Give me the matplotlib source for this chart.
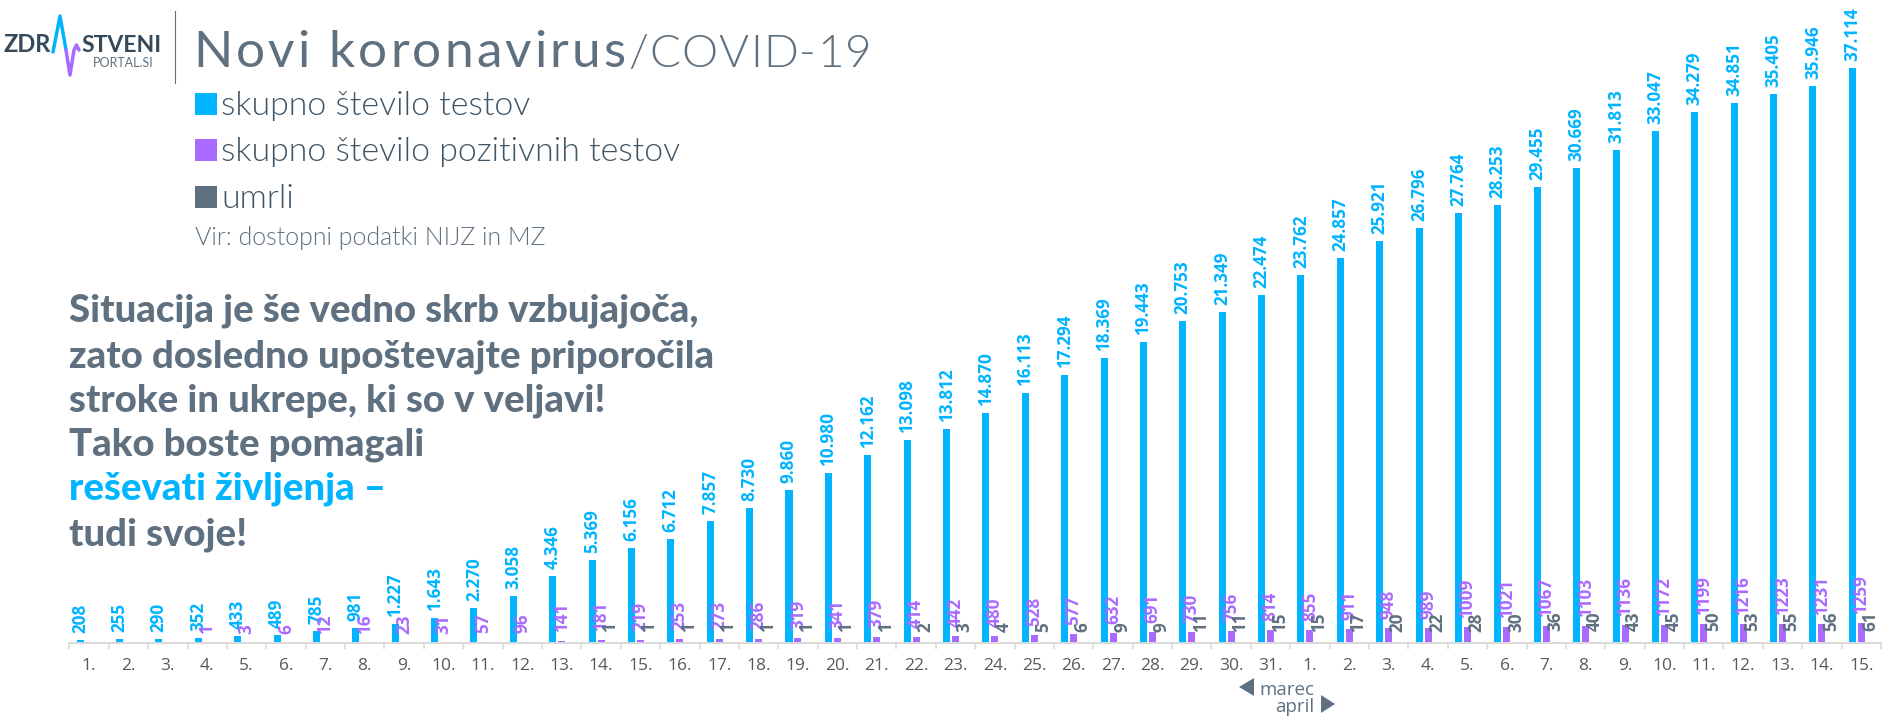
import matplotlib
matplotlib.use("Agg")
import matplotlib.pyplot as plt
from matplotlib.patches import Rectangle, Polygon

BLUE = "#00B4FF"
PURPLE = "#A96BFF"
DARK = "#5F7080"

days = [str(i) + "." for i in range(1, 32)] + [str(i) + "." for i in range(1, 16)]

tests = [208, 255, 290, 352, 433, 489, 785, 981, 1227, 1643, 2270, 3058, 4346, 5369, 6156, 6712,
         7857, 8730, 9860, 10980, 12162, 13098, 13812, 14870, 16113, 17294, 18369, 19443, 20753,
         21349, 22474, 23762, 24857, 25921, 26796, 27764, 28253, 29455, 30669, 31813, 33047,
         34279, 34851, 35405, 35946, 37114]
positive = [0, 0, 0, 1, 3, 6, 12, 16, 23, 31, 57, 96, 141, 181, 219, 253, 273, 286, 319, 341, 379,
            414, 442, 480, 528, 577, 632, 691, 730, 756, 814, 855, 911, 948, 989, 1009, 1021, 1067,
            1103, 1136, 1172, 1199, 1216, 1223, 1231, 1259]
deaths = [0, 0, 0, 0, 0, 0, 0, 0, 0, 0, 0, 0, 0, 1, 1, 1, 1, 1, 1, 1, 1, 2, 3, 4, 5, 6, 9, 9, 11,
          11, 15, 15, 17, 20, 22, 28, 30, 36, 40, 43, 45, 50, 53, 55, 56, 61]

legend_labels = ["skupno število testov", "skupno število pozitivnih testov", "umrli"]
message = ["Situacija je še vedno skrb vzbujajoča,",
           "zato dosledno upoštevajte priporočila",
           "stroke in ukrepe, ki so v veljavi!",
           "Tako boste pomagali",
           "reševati življenja –",
           "tudi svoje!"]

W, H = 1890, 720
fig = plt.figure(figsize=(W / 100, H / 100), dpi=100, facecolor="white")

# chart axes, baseline at y=643 px
ax = fig.add_axes([69.4 / W, (H - 643) / H, (1881 - 69.4) / W, 643 / H])
ax.set_xlim(-0.5, 45.5)
ax.set_ylim(0, 41500)
ax.patch.set_alpha(0)

x = list(range(len(days)))
series = [(tests, BLUE, -0.228, 7), (positive, PURPLE, 0, 9), (deaths, DARK, 0.228, 11)]
for values, color, off, gap in series:
    ax.bar([i + off for i in x], values, width=0.178, color=color, linewidth=0)
for values, color, off, gap in series:
    for i, v in zip(x, values):
        if v == 0:
            continue
        if values is tests and v >= 1000:
            label = f"{v:,}".replace(",", ".")
        else:
            label = str(v)
        ax.annotate(label, (i + off, v), xytext=(0, gap * 0.72), textcoords="offset points",
                    rotation=90, ha="center", va="bottom", color=color, fontsize=12.3,
                    family="Open Sans", weight="bold", annotation_clip=False)

for s in ["top", "left", "right"]:
    ax.spines[s].set_visible(False)
ax.spines["bottom"].set_color("#D9D9D9")
ax.spines["bottom"].set_linewidth(1.4)
ax.set_yticks([])
ax.set_xticks(x)
ax.set_xticklabels(days, family="Open Sans", fontsize=12.5, color="#595959")
ax.tick_params(axis="x", which="major", length=0, pad=11)
ax.set_xticks([i - 0.5 for i in range(len(days) + 1)], minor=True)
ax.tick_params(axis="x", which="minor", length=4.5, width=1.2, color="#D9D9D9")

# overlay in pixel coordinates for header, legend and text
ov = fig.add_axes([0, 0, 1, 1], zorder=-1)
ov.set_xlim(0, W)
ov.set_ylim(H, 0)
ov.axis("off")


# matplotlib has no letter spacing, so place the string one character at a time
def spaced_text(px, py, s, spacing, **kw):
    r = fig.canvas.get_renderer()
    for i, c in enumerate(s):
        if i > 0:
            probe = ov.text(0, 0, s[:i], **kw)
            w = probe.get_window_extent(r).width
            probe.remove()
        else:
            w = 0
        ov.text(px + w + i * spacing, py, c, va="baseline", **kw)
    probe = ov.text(0, 0, s, **kw)
    w = probe.get_window_extent(r).width
    probe.remove()
    return px + w + (len(s) - 1) * spacing


# logo
ov.text(4, 52, "ZDR", family="Lato", weight="bold", fontsize=17, color="#34495A", va="baseline")
ov.text(81, 52, "STVENI", family="Lato", weight="bold", fontsize=16.5, color="#34495A", va="baseline")
ov.text(93, 67, "PORTAL.SI", family="Lato", fontsize=9, color="#5F7080", va="baseline")
ov.plot([53, 60, 66], [52, 16, 50], color=BLUE, lw=2.5, solid_capstyle="round")
ov.plot([66, 70, 74, 76.5, 79], [50, 75, 50, 45, 50], color=PURPLE, lw=2.5, solid_capstyle="round")
ov.plot([174.6, 174.6], [11, 83], color="#5F7080", lw=0.8)

# title
end = spaced_text(193, 67, "Novi koronavirus", 3.1, family="Lato", fontsize=37, color=DARK)
spaced_text(end + 3, 67, "/COVID-19", 1.1, family="Lato", weight=300, fontsize=33, color=DARK)

# legend
for top, color, label in zip([93, 139, 186], [BLUE, PURPLE, DARK], legend_labels):
    ov.add_patch(Rectangle((195, top), 22, 22, facecolor=color, linewidth=0))
    ov.text(221, top + 22, label, family="Lato", weight=300, fontsize=24.4, color="#3F5566", va="baseline")
ov.text(195, 245, "Vir: dostopni podatki NIJZ in MZ", family="Lato", weight=300, fontsize=18,
        color=DARK, va="baseline")

# message
baselines = [322, 367, 411, 456, 500, 545]
for line, base in zip(message, baselines):
    color = BLUE if line.startswith("reševati") else DARK
    ov.text(69, base, line, family="Lato", weight=900, fontsize=27.5, color=color, va="baseline")

# month marks
ov.add_patch(Polygon([(1254, 678), (1254, 696), (1239, 687)], facecolor=DARK, linewidth=0))
ov.text(1314, 695, "marec", family="Open Sans", fontsize=13.5, color=DARK, va="baseline", ha="right")
ov.text(1314, 712, "april", family="Open Sans", fontsize=13.5, color=DARK, va="baseline", ha="right")
ov.add_patch(Polygon([(1321, 695), (1321, 713), (1335, 704)], facecolor=DARK, linewidth=0))

fig.savefig("out.png", dpi=100)
